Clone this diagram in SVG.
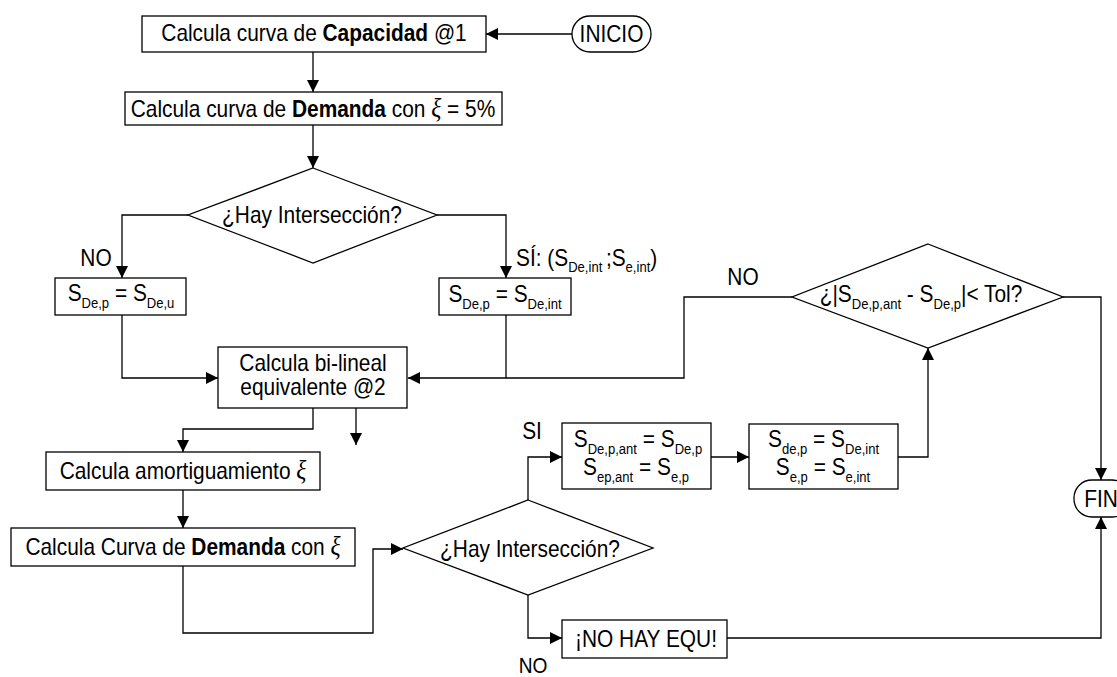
<svg xmlns="http://www.w3.org/2000/svg" width="1117" height="677" viewBox="0 0 1117 677">
  <defs>
    <style>
      .box { fill: #fff; stroke: #000; stroke-width: 1.3; }
      .ln { fill: none; stroke: #000; stroke-width: 1.3; }
      .t { font-family: "Liberation Sans", Arial, sans-serif; font-size: 24px; fill: #000; }
      .s { font-size: 15px; }
      .b { font-weight: bold; }
      .xi { font-family: "Liberation Serif", "Times New Roman", serif; font-style: italic; font-size: 27px; }
    </style>
    <marker id="ah" markerWidth="12" markerHeight="12" refX="12" refY="6" orient="auto" markerUnits="userSpaceOnUse">
      <path d="M0,0 L12,6 L0,12 z" fill="#000"/>
    </marker>
  </defs>
  <rect width="1117" height="677" fill="#fff"/>

  <!-- connectors -->
  <g id="connectors" class="ln" marker-end="url(#ah)">
    <path d="M572,34 H486"/>
    <path d="M313,52 V92"/>
    <path d="M313,125 V168"/>
    <path d="M188,215 H122 V278"/>
    <path d="M437,215 H506 V278"/>
    <path d="M122,315 V378 H218"/>
    <path d="M506,315 V378" marker-end="none"/>
    <path d="M792,297 H684 V378 H408"/>
    <path d="M313,408 V429 H183 V452"/>
    <path d="M356,408 V445"/>
    <path d="M183,490 V528"/>
    <path d="M183,566 V633 H373 V549 H403"/>
    <path d="M528,500 V457 H562"/>
    <path d="M711,457 H749"/>
    <path d="M898,457 H928 V348"/>
    <path d="M1063,297 H1101 V480"/>
    <path d="M528,595 V638 H562"/>
    <path d="M727,638 H1101 V517"/>
  </g>

  <!-- connector labels -->
  <g id="labels" class="t">
    <text transform="translate(96 266) scale(0.87 1)" text-anchor="middle">NO</text>
    <text transform="translate(516 266) scale(0.87 1)">SÍ: (S<tspan class="s" dy="6">De,int </tspan><tspan dy="-6">;S</tspan><tspan class="s" dy="6">e,int</tspan><tspan dy="-6">)</tspan></text>
    <text transform="translate(743 285) scale(0.87 1)" text-anchor="middle">NO</text>
    <text transform="translate(532 439) scale(0.87 1)" text-anchor="middle">SI</text>
    <text transform="translate(533 673) scale(0.87 1)" text-anchor="middle" font-size="22">NO</text>
  </g>

  <g id="inicio">
    <rect class="box" x="572" y="16" width="79" height="36" rx="18"/>
    <text class="t" transform="translate(611.5 42) scale(0.87 1)" text-anchor="middle">INICIO</text>
  </g>

  <g id="capacidad">
    <rect class="box" x="142" y="16" width="344" height="36"/>
    <text class="t" transform="translate(314 41) scale(0.87 1)" text-anchor="middle">Calcula curva de <tspan class="b">Capacidad</tspan> @1</text>
  </g>

  <g id="demanda5">
    <rect class="box" x="125" y="92" width="377" height="33"/>
    <text class="t" transform="translate(313 117) scale(0.87 1)" text-anchor="middle">Calcula curva de <tspan class="b">Demanda</tspan> con <tspan class="xi">ξ</tspan> = 5%</text>
  </g>

  <g id="interseccion1">
    <polygon class="box" points="313,168 437,215 313,263 188,215"/>
    <text class="t" transform="translate(312 223) scale(0.87 1)" text-anchor="middle">¿Hay Intersección?</text>
  </g>

  <g id="sdeu">
    <rect class="box" x="55" y="278" width="131" height="37"/>
    <text class="t" transform="translate(121 301) scale(0.87 1)" text-anchor="middle">S<tspan class="s" dy="7">De,p</tspan><tspan dy="-7"> = S</tspan><tspan class="s" dy="7">De,u</tspan></text>
  </g>

  <g id="sdeint">
    <rect class="box" x="439" y="278" width="132" height="37"/>
    <text class="t" transform="translate(505 302) scale(0.87 1)" text-anchor="middle">S<tspan class="s" dy="7">De,p</tspan><tspan dy="-7"> = S</tspan><tspan class="s" dy="7">De,int</tspan></text>
  </g>

  <g id="bilineal">
    <rect class="box" x="218" y="347" width="189" height="61"/>
    <text class="t" transform="translate(313 371) scale(0.87 1)" text-anchor="middle">Calcula bi-lineal</text>
    <text class="t" transform="translate(313 395) scale(0.87 1)" text-anchor="middle">equivalente @2</text>
  </g>

  <g id="tolerancia">
    <polygon class="box" points="928,244 1063,297 928,348 792,297"/>
    <text class="t" transform="translate(921 302) scale(0.87 1)" text-anchor="middle">¿|S<tspan class="s" dy="7">De,p,ant</tspan><tspan dy="-7"> - S</tspan><tspan class="s" dy="7">De,p</tspan><tspan dy="-7">|&lt; Tol?</tspan></text>
  </g>

  <g id="amortiguamiento">
    <rect class="box" x="46" y="452" width="274" height="38"/>
    <text class="t" transform="translate(183 479) scale(0.87 1)" text-anchor="middle">Calcula amortiguamiento <tspan class="xi">ξ</tspan></text>
  </g>

  <g id="demanda">
    <rect class="box" x="11" y="528" width="344" height="38"/>
    <text class="t" transform="translate(183 555) scale(0.87 1)" text-anchor="middle">Calcula Curva de <tspan class="b">Demanda</tspan> con <tspan class="xi">ξ</tspan></text>
  </g>

  <g id="interseccion2">
    <polygon class="box" points="528,500 653,548 528,595 403,548"/>
    <text class="t" transform="translate(530 557) scale(0.87 1)" text-anchor="middle">¿Hay Intersección?</text>
  </g>

  <g id="guardar">
    <rect class="box" x="562" y="423" width="149" height="66"/>
    <text class="t" transform="translate(638 447) scale(0.87 1)" text-anchor="middle">S<tspan class="s" dy="7">De,p,ant</tspan><tspan dy="-7"> = S</tspan><tspan class="s" dy="7">De,p</tspan></text>
    <text class="t" transform="translate(636 475) scale(0.87 1)" text-anchor="middle">S<tspan class="s" dy="7">ep,ant</tspan><tspan dy="-7"> = S</tspan><tspan class="s" dy="7">e,p</tspan></text>
  </g>

  <g id="actualizar">
    <rect class="box" x="749" y="424" width="149" height="65"/>
    <text class="t" transform="translate(823.5 447) scale(0.87 1)" text-anchor="middle">S<tspan class="s" dy="7">de,p</tspan><tspan dy="-7"> = S</tspan><tspan class="s" dy="7">De,int</tspan></text>
    <text class="t" transform="translate(823 475) scale(0.87 1)" text-anchor="middle">S<tspan class="s" dy="7">e,p</tspan><tspan dy="-7"> = S</tspan><tspan class="s" dy="7">e,int</tspan></text>
  </g>

  <g id="noequ">
    <rect class="box" x="562" y="620" width="165" height="38"/>
    <text class="t" transform="translate(646 647) scale(0.87 1)" text-anchor="middle">¡NO HAY EQU!</text>
  </g>

  <g id="fin">
    <rect class="box" x="1074" y="480" width="56" height="37" rx="18"/>
    <text class="t" transform="translate(1101 507) scale(0.87 1)" text-anchor="middle">FIN</text>
  </g>
</svg>
